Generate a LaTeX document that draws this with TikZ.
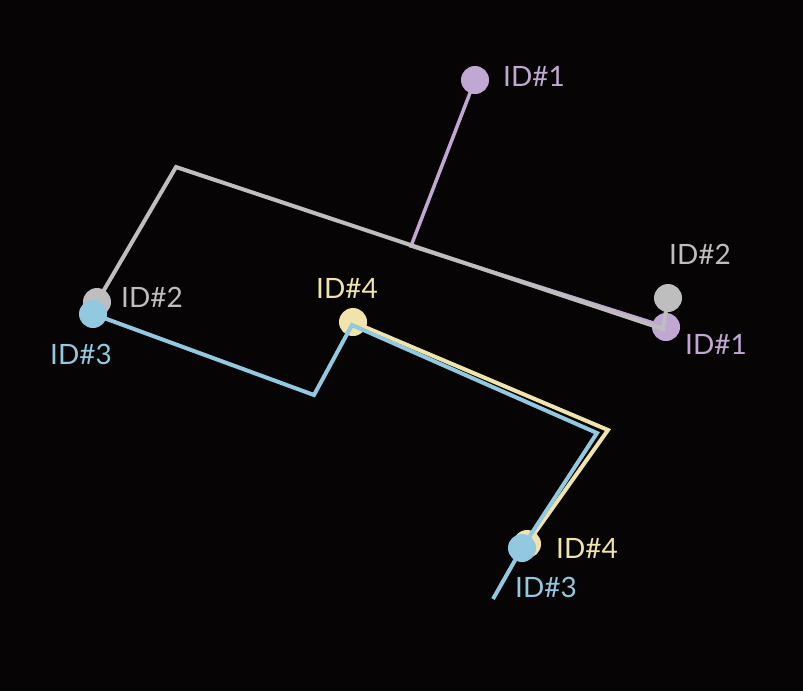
\documentclass[tikz,border=0pt]{standalone}
\usepackage{fontspec}
\setmainfont{Lato}
\definecolor{bgdark}{HTML}{060404}
\definecolor{idgray}{HTML}{BEBEBE}
\definecolor{idpurple}{HTML}{C0A8D2}
\definecolor{idblue}{HTML}{92C8E0}
\definecolor{idyellow}{HTML}{F0E4AA}
\tikzset{
	iddot/.style={circle,fill=#1,inner sep=0pt,minimum size=28pt},
	idlabel/.style={text=#1,anchor=base west,inner sep=0pt,font=\fontsize{28}{34}\selectfont},
	idwire/.style={draw=#1,line width=4pt}
}
\begin{document}
\begin{tikzpicture}[x=1pt,y=-1pt]
	\fill[bgdark] (0,0) rectangle (803,691);
	\useasboundingbox (0,0) rectangle (803,691);
	% points of the ids
	\coordinate (g2a) at (97,302);
	\coordinate (g2b) at (668,298);
	\coordinate (p1a) at (475,80);
	\coordinate (p1b) at (666,327);
	\coordinate (y4a) at (353,322);
	\coordinate (y4b) at (527,544);
	\coordinate (b3a) at (93,314);
	\coordinate (b3b) at (522,548);
	% bends
	\coordinate (gk1) at (176,167);
	\coordinate (gk2) at (663,329);
	\coordinate (pk) at (411,246);
	\coordinate (yk) at (608,430);
	\coordinate (bk1) at (314,395);
	\coordinate (bk2) at (352,325);
	\coordinate (bk3) at (597,433);
	\coordinate (bend) at (493,599);
	% gray and purple
	\node[iddot=idgray] (g2adot) at (g2a) {};
	\node[iddot=idgray] (g2bdot) at (g2b) {};
	\draw[idwire=idpurple,line width=3.5pt] (p1a) -- (pk) -- (p1b);
	\node[iddot=idpurple] (p1adot) at (p1a) {};
	\node[iddot=idpurple] (p1bdot) at (p1b) {};
	\draw[idwire=idgray] (g2a) -- (gk1) -- (gk2) -- (g2b);
	% yellow and blue
	\draw[idwire=idyellow] (y4a) -- (yk) -- (y4b);
	\node[iddot=idyellow] (y4adot) at (y4a) {};
	\node[iddot=idyellow] (y4bdot) at (y4b) {};
	\draw[idwire=idblue] (b3a) -- (bk1) -- (bk2) -- (bk3) -- (b3b) -- (bend);
	\node[iddot=idblue] (b3adot) at (b3a) {};
	\node[iddot=idblue] (b3bdot) at (b3b) {};
	% labels
	\node[idlabel=idpurple] (t1a) at (503,86) {ID\#1};
	\node[idlabel=idgray] (t2b) at (669,264) {ID\#2};
	\node[idlabel=idpurple] (t1b) at (685,354) {ID\#1};
	\node[idlabel=idgray] (t2a) at (121,307) {ID\#2};
	\node[idlabel=idblue] (t3a) at (50,364) {ID\#3};
	\node[idlabel=idyellow] (t4a) at (316,298) {ID\#4};
	\node[idlabel=idyellow] (t4b) at (556,558) {ID\#4};
	\node[idlabel=idblue] (t3b) at (515,597) {ID\#3};
\end{tikzpicture}
\end{document}
